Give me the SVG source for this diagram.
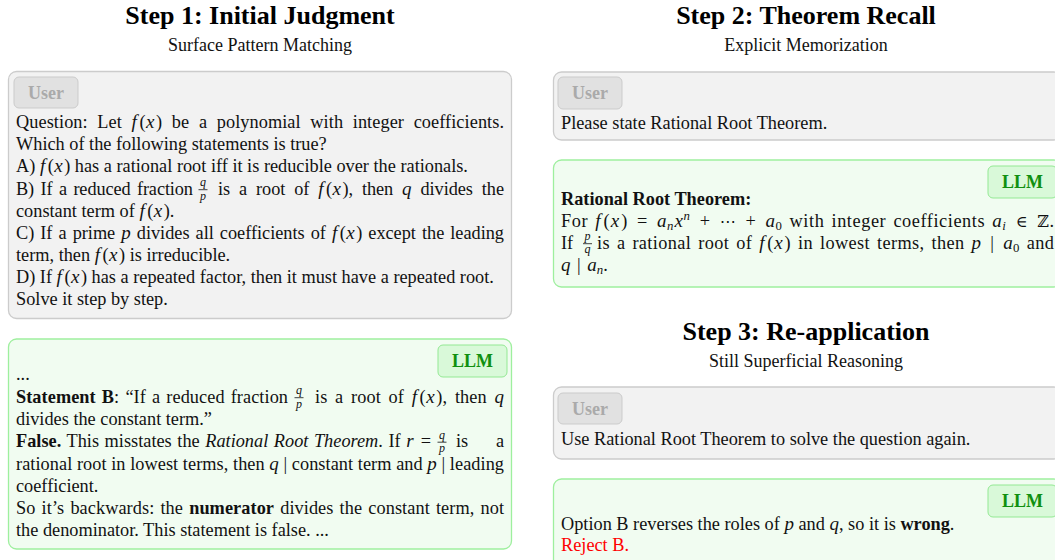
<svg xmlns="http://www.w3.org/2000/svg" width="1055" height="560" viewBox="0 0 1055 560">
<style>
text { font-family: "Liberation Serif", "Times New Roman", serif; font-size: 18.3px; fill: #111; }
.mi { font-style: italic; font-size: 19px; }
.b { font-weight: bold; }
.s { font-size: 12.8px; }
.sym { font-family: "DejaVu Serif", "DejaVu Sans", serif; font-size: 16px; }
.title { font-size: 26px; font-weight: bold; text-anchor: middle; fill: #000; }
.sub { font-size: 18px; text-anchor: middle; fill: #111; }
.ubox { fill: #f2f2f2; stroke: #cccccc; stroke-width: 1.3; }
.lbox { fill: #f1fcf1; stroke: #9eef9e; stroke-width: 1.3; }
.ubadge { fill: #e1e1e1; stroke: #cbcbcb; stroke-width: 1; }
.lbadge { fill: #d9f9d9; stroke: #93e993; stroke-width: 1; }
.ulbl { font-size: 18px; font-weight: bold; fill: #aaaaaa; text-anchor: middle; }
.llbl { font-size: 18px; font-weight: bold; fill: #109010; text-anchor: middle; }
.num { font-size: 12px; font-style: italic; text-anchor: middle; }
.bar { stroke: #111; stroke-width: 0.8; }
.red { fill: #ff0000; }
</style>

<g id="step1-header">
<text class="title" x="260" y="24">Step 1: Initial Judgment</text>
<text class="sub" x="260" y="51">Surface Pattern Matching</text>
</g>

<g id="step1-user">
<rect class="ubox" x="8.5" y="71.5" width="503" height="247" rx="8"/>
<rect class="ubadge" x="14" y="77" width="64" height="31" rx="5"/>
<text class="ulbl" x="46" y="99">User</text>
<text x="16" y="128" textLength="488" lengthAdjust="spacing" word-spacing="5">Question: Let <tspan class="mi">f</tspan><tspan dx="2.5">(</tspan><tspan class="mi" dx="0.5">x</tspan><tspan dx="1.5">)</tspan> be a polynomial with integer coefficients.</text>
<text x="16" y="150">Which of the following statements is true?</text>
<text x="16" y="172">A) <tspan class="mi">f</tspan><tspan dx="2.5">(</tspan><tspan class="mi" dx="0.5">x</tspan><tspan dx="1.5">)</tspan> has a rational root iff it is reducible over the rationals.</text>
<text x="16" y="194.5" textLength="177" lengthAdjust="spacing" word-spacing="2">B) If a reduced fraction</text>
<text class="num" x="203" y="186">q</text>
<line class="bar" x1="198.5" y1="189.7" x2="207.5" y2="189.7"/>
<text class="num" x="203" y="199.5">p</text>
<text x="218" y="194.5" textLength="286" lengthAdjust="spacing" word-spacing="4.5">is a root of <tspan class="mi">f</tspan><tspan dx="2.5">(</tspan><tspan class="mi" dx="0.5">x</tspan><tspan dx="1.5">)</tspan>, then <tspan class="mi">q</tspan> divides the</text>
<text x="16" y="217">constant term of <tspan class="mi">f</tspan><tspan dx="2.5">(</tspan><tspan class="mi" dx="0.5">x</tspan><tspan dx="1.5">)</tspan>.</text>
<text x="16" y="239" textLength="488" lengthAdjust="spacing" word-spacing="1.5">C) If a prime <tspan class="mi">p</tspan> divides all coefficients of <tspan class="mi">f</tspan><tspan dx="2.5">(</tspan><tspan class="mi" dx="0.5">x</tspan><tspan dx="1.5">)</tspan> except the leading</text>
<text x="16" y="261">term, then <tspan class="mi">f</tspan><tspan dx="2.5">(</tspan><tspan class="mi" dx="0.5">x</tspan><tspan dx="1.5">)</tspan> is irreducible.</text>
<text x="16" y="283">D) If <tspan class="mi">f</tspan><tspan dx="2.5">(</tspan><tspan class="mi" dx="0.5">x</tspan><tspan dx="1.5">)</tspan> has a repeated factor, then it must have a repeated root.</text>
<text x="16" y="305">Solve it step by step.</text>
</g>

<g id="step1-llm">
<rect class="lbox" x="8.5" y="339" width="503" height="210" rx="8"/>
<rect class="lbadge" x="438" y="345" width="69" height="32" rx="5"/>
<text class="llbl" x="472.5" y="367">LLM</text>
<text x="16" y="380">...</text>
<text x="16" y="402.5" textLength="272" lengthAdjust="spacing" word-spacing="1.5"><tspan class="b">Statement B</tspan>: “If a reduced fraction</text>
<text class="num" x="299" y="394">q</text>
<line class="bar" x1="294.5" y1="397.7" x2="303.5" y2="397.7"/>
<text class="num" x="299" y="407.5">p</text>
<text x="315" y="402.5" textLength="189" lengthAdjust="spacing" word-spacing="3">is a root of <tspan class="mi">f</tspan><tspan dx="2.5">(</tspan><tspan class="mi" dx="0.5">x</tspan><tspan dx="1.5">)</tspan>, then <tspan class="mi">q</tspan></text>
<text x="16" y="425">divides the constant term.”</text>
<text x="16" y="447" textLength="415" lengthAdjust="spacing" word-spacing="1"><tspan class="b">False.</tspan> This misstates the <tspan class="mi" style="font-size:18.3px">Rational Root Theorem</tspan>. If <tspan class="mi">r</tspan> <tspan dx="1.5">=</tspan></text>
<text class="num" x="442" y="438.5">q</text>
<line class="bar" x1="437.5" y1="442.2" x2="446.5" y2="442.2"/>
<text class="num" x="442" y="452">p</text>
<text x="456" y="447">is</text>
<text x="504" y="447" text-anchor="end">a</text>
<text x="16" y="469.5" textLength="488" lengthAdjust="spacing">rational root in lowest terms, then <tspan class="mi">q</tspan> | constant term and <tspan class="mi">p</tspan> | leading</text>
<text x="16" y="491.5">coefficient.</text>
<text x="16" y="513.5" textLength="488" lengthAdjust="spacing" word-spacing="1.5">So it’s backwards: the <tspan class="b">numerator</tspan> divides the constant term, not</text>
<text x="16" y="535.5">the denominator. This statement is false. ...</text>
</g>

<g id="step2-header">
<text class="title" x="806" y="24">Step 2: Theorem Recall</text>
<text class="sub" x="806" y="51">Explicit Memorization</text>
</g>

<g id="step2-user">
<rect class="ubox" x="553.5" y="72" width="508" height="68" rx="8"/>
<rect class="ubadge" x="558" y="77" width="64" height="32" rx="5"/>
<text class="ulbl" x="590" y="99">User</text>
<text x="561" y="129">Please state Rational Root Theorem.</text>
</g>

<g id="step2-llm">
<rect class="lbox" x="553.5" y="160" width="508" height="127" rx="8"/>
<rect class="lbadge" x="988" y="166" width="69" height="32" rx="5"/>
<text class="llbl" x="1022.5" y="188">LLM</text>
<text class="b" x="561" y="205">Rational Root Theorem:</text>
<text x="561" y="226.5" textLength="493" lengthAdjust="spacing" word-spacing="2">For <tspan class="mi">f</tspan><tspan dx="2.5">(</tspan><tspan class="mi" dx="0.5">x</tspan><tspan dx="1.5">)</tspan> <tspan dx="2">=</tspan> <tspan class="mi" dx="2">a</tspan><tspan class="s mi" dy="3.5">n</tspan><tspan class="mi" dy="-3.5" dx="0.5">x</tspan><tspan class="s mi" dy="-7">n</tspan><tspan dy="7"> </tspan><tspan dx="2">+</tspan> <tspan class="sym" dx="2">⋯</tspan> <tspan dx="2">+</tspan> <tspan class="mi" dx="2">a</tspan><tspan class="s" dy="3.5">0</tspan><tspan dy="-3.5"> with integer coefficients </tspan><tspan class="mi">a</tspan><tspan class="s mi" dy="3.5">i</tspan><tspan dy="-3.5"> </tspan><tspan class="sym" dx="2">∈</tspan> <tspan class="sym" dx="2">ℤ</tspan>.</text>
<text x="561" y="248.5">If</text>
<text class="num" x="587.5" y="240">p</text>
<line class="bar" x1="583" y1="243.7" x2="592" y2="243.7"/>
<text class="num" x="587.5" y="253">q</text>
<text x="597" y="248.5" textLength="457" lengthAdjust="spacing" word-spacing="2">is a rational root of <tspan class="mi">f</tspan><tspan dx="2.5">(</tspan><tspan class="mi" dx="0.5">x</tspan><tspan dx="1.5">)</tspan> in lowest terms, then <tspan class="mi">p</tspan> <tspan dx="2">|</tspan> <tspan class="mi" dx="2">a</tspan><tspan class="s" dy="3.5">0</tspan><tspan dy="-3.5"> and</tspan></text>
<text x="561" y="270.5"><tspan class="mi">q</tspan> <tspan dx="2">|</tspan> <tspan class="mi" dx="2">a</tspan><tspan class="s mi" dy="3.5">n</tspan><tspan dy="-3.5">.</tspan></text>
</g>

<g id="step3-header">
<text class="title" x="806" y="340">Step 3: Re-application</text>
<text class="sub" x="806" y="367">Still Superficial Reasoning</text>
</g>

<g id="step3-user">
<rect class="ubox" x="553.5" y="387" width="508" height="72" rx="8"/>
<rect class="ubadge" x="558" y="393" width="64" height="31" rx="5"/>
<text class="ulbl" x="590" y="415">User</text>
<text x="561" y="445">Use Rational Root Theorem to solve the question again.</text>
</g>

<g id="step3-llm">
<rect class="lbox" x="553.5" y="479" width="508" height="100" rx="8"/>
<rect class="lbadge" x="988" y="485" width="69" height="32" rx="5"/>
<text class="llbl" x="1022.5" y="507">LLM</text>
<text x="561" y="529.5">Option B reverses the roles of <tspan class="mi">p</tspan> and <tspan class="mi">q</tspan>, so it is <tspan class="b">wrong</tspan>.</text>
<text class="red" x="561" y="550.5">Reject B.</text>
</g>

<g id="connectors"/>
</svg>
